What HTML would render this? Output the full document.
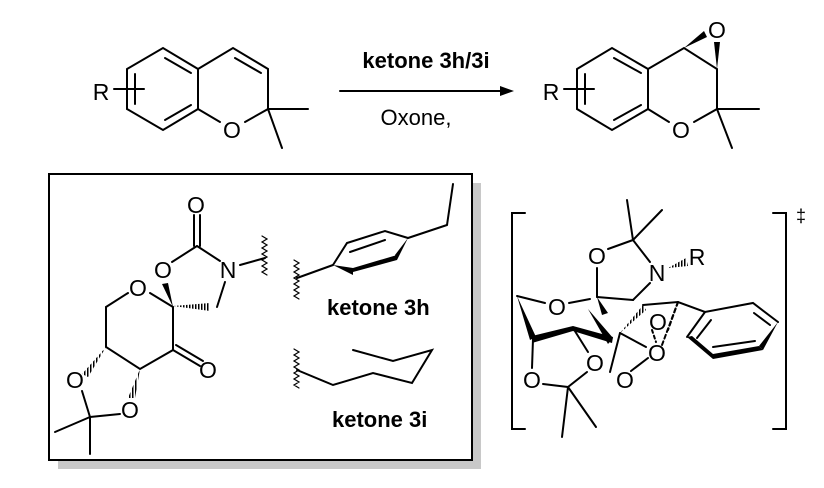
<!DOCTYPE html>
<html><head><meta charset="utf-8"><style>
html,body{margin:0;padding:0;background:#fff;}
svg{display:block;}
text{font-family:"Liberation Sans",Arial,sans-serif;fill:#000;}
.a{font-size:23px;text-anchor:middle;}
</style></head><body>
<svg width="824" height="488" viewBox="0 0 824 488" xmlns="http://www.w3.org/2000/svg">
<defs><pattern id="h" width="3" height="3" patternUnits="userSpaceOnUse"><rect width="1.5" height="3" fill="#000"/></pattern></defs>
<g stroke="#000" stroke-width="2" fill="none" stroke-linecap="round">
<polyline points="127,69 163,48 198,69 198,109 163,130 127,109 127,69"/>
<line x1="135" y1="74" x2="135" y2="104"/>
<line x1="165" y1="58" x2="191" y2="73"/>
<line x1="165" y1="120" x2="191" y2="105"/>
<polyline points="198,69 233,48 268,69 268,109 245,122"/>
<line x1="235" y1="58" x2="261" y2="73"/>
<line x1="220" y1="122" x2="198" y2="109"/>
<line x1="268" y1="109" x2="308" y2="109"/><line x1="268" y1="109" x2="282" y2="148"/>
<line x1="114" y1="89" x2="144" y2="89"/>
<line x1="340" y1="91" x2="500" y2="91"/>
<polyline points="577,69 612,48 648,69 648,109 612,130 577,109 577,69"/>
<line x1="585" y1="74" x2="585" y2="104"/>
<line x1="614" y1="58" x2="641" y2="73"/>
<line x1="614" y1="120" x2="641" y2="105"/>
<polyline points="648,69 684,48 717,69 717,109 694,122"/>
<line x1="669" y1="122" x2="648" y2="109"/>
<line x1="717" y1="109" x2="759" y2="109"/><line x1="717" y1="109" x2="732" y2="148"/>
<line x1="564" y1="89" x2="594" y2="89"/>
</g>
<polygon points="500,86 514,91 500,96" fill="#000"/>
<polygon points="684,48 704,31 707,37" fill="#000"/>
<polygon points="717,69 714,42 720,42" fill="#000"/>
<text class="a" x="101" y="100">R</text><text class="a" x="232" y="138">O</text>
<text class="a" x="551" y="100">R</text><text class="a" x="681" y="138">O</text><text class="a" x="717" y="38">O</text>
<text x="426" y="68" font-size="22" font-weight="bold" text-anchor="middle">ketone 3h/3i</text>
<text x="416" y="125" font-size="22" text-anchor="middle">Oxone,</text>

<rect x="58" y="183" width="423" height="286" fill="#c8c8c8"/>
<rect x="49" y="174" width="423" height="286" fill="#fff" stroke="#000" stroke-width="2"/>
<g stroke="#000" stroke-width="2" fill="none" stroke-linecap="round">
<line x1="194" y1="246" x2="194" y2="215"/><line x1="200" y1="246" x2="200" y2="215"/>
<line x1="197" y1="246" x2="172" y2="262"/><line x1="197" y1="246" x2="220" y2="261"/>
<line x1="225" y1="282" x2="217" y2="307"/>
<line x1="150" y1="293" x2="173" y2="307"/><line x1="128" y1="293" x2="106" y2="307"/>
<polyline points="106,307 106,347 140,369 173,350 173,307"/>
<line x1="173" y1="350" x2="200" y2="366"/><line x1="176" y1="345" x2="203" y2="361"/>
<line x1="82" y1="391" x2="90" y2="417"/><line x1="120" y1="414" x2="90" y2="417"/>
<line x1="90" y1="417" x2="55" y2="432"/><line x1="90" y1="417" x2="90" y2="454"/>
<line x1="240" y1="265" x2="265" y2="258"/>
<path d="M262,236 l5,3 l-5,3 l5,3 l-5,3 l5,3 l-5,3 l5,3 l-5,3 l5,3 l-5,3 l5,3 l-5,3 l5,3" stroke-width="1.2"/>
<path d="M294,260 l5,3 l-5,3 l5,3 l-5,3 l5,3 l-5,3 l5,3 l-5,3 l5,3 l-5,3 l5,3 l-5,3 l5,3" stroke-width="1.2"/>
<line x1="297" y1="278" x2="333" y2="265"/>
<polyline points="333,265 347,243 385,231 408,238"/>
<line x1="350" y1="252" x2="385" y2="240"/>
<line x1="408" y1="238" x2="447" y2="225"/><line x1="447" y1="225" x2="453" y2="184"/>
<path d="M294,349 l5,3 l-5,3 l5,3 l-5,3 l5,3 l-5,3 l5,3 l-5,3 l5,3 l-5,3 l5,3 l-5,3 l5,3" stroke-width="1.2"/>
<polyline points="297,370 333,385 373,373 412,383 432,350 393,361 353,350"/>
</g>
<polygon points="333,265 353,268 353,275" fill="#000"/>
<polygon points="353,272 353,268 397,255 397,260" fill="#000"/>
<polygon points="397,260 395,255 408,238" fill="#000"/>
<polygon points="173,307 162,284 168,283" fill="#000"/>
<polygon points="173,306 210,303 210,311" fill="url(#h)"/>
<polygon points="106,347 82,374 88,377" fill="url(#h)"/>
<polygon points="140,369 128,398 135,398" fill="url(#h)"/>
<text class="a" x="196" y="213">O</text><text class="a" x="163" y="278">O</text><text class="a" x="228" y="278">N</text>
<text class="a" x="138" y="296">O</text><text class="a" x="208" y="378">O</text><text class="a" x="75" y="388">O</text><text class="a" x="130" y="418">O</text>
<text x="327" y="315" font-size="22" font-weight="bold">ketone 3h</text>
<text x="332" y="427" font-size="22" font-weight="bold">ketone 3i</text>

<g stroke="#000" stroke-width="2" fill="none" stroke-linecap="round">
<polyline points="525,213 512,213 512,429 525,429"/>
<polyline points="773,213 786,213 786,429 773,429"/>
<line x1="633" y1="240" x2="627" y2="200"/><line x1="633" y1="240" x2="662" y2="210"/>
<line x1="608" y1="249" x2="633" y2="240"/><line x1="633" y1="240" x2="650" y2="262"/>
<line x1="650" y1="283" x2="633" y2="300"/><line x1="597" y1="268" x2="597" y2="297"/>
<line x1="597" y1="297" x2="633" y2="300"/>
<line x1="590" y1="299" x2="569" y2="303"/><line x1="545" y1="303" x2="517" y2="296"/>
<line x1="573" y1="328" x2="588" y2="352"/><line x1="533" y1="339" x2="532" y2="368"/>
<line x1="543" y1="384" x2="568" y2="387"/><line x1="587" y1="372" x2="568" y2="387"/>
<line x1="568" y1="387" x2="562" y2="437"/><line x1="568" y1="387" x2="596" y2="427"/>
<line x1="620" y1="333" x2="646" y2="347"/><line x1="620" y1="333" x2="610" y2="372"/>
<line x1="631" y1="371" x2="648" y2="358"/>
<polyline points="643,305 678,302 705,312 753,303 778,322"/>
<line x1="705" y1="312" x2="687" y2="337"/><line x1="711" y1="320" x2="697" y2="338"/>
<line x1="754" y1="313" x2="770" y2="325"/><line x1="713" y1="347" x2="755" y2="341"/>
<line x1="678" y1="302" x2="668" y2="330" stroke-dasharray="4,3"/>
<line x1="678" y1="302" x2="662" y2="345" stroke-dasharray="4,3"/>
<line x1="652" y1="330" x2="656" y2="342" stroke-dasharray="3,3"/>
</g>
<polygon points="517,296 536,337 530,340" fill="#000"/>
<polygon points="532,343 532,336 573,326 573,331" fill="#000"/>
<polygon points="573,326 613,337 612,343 573,331" fill="#000"/>
<polygon points="588,309 613,338 608,344" fill="#000"/>
<polygon points="597,297 608,313 602,315" fill="#000"/>
<polygon points="778,322 763,350 759,346" fill="#000"/>
<polygon points="763,350 713,359 713,354 759,346" fill="#000"/>
<polygon points="713,359 687,337 692,336 713,354" fill="#000"/>
<polygon points="620,333 643,305 646,310" fill="url(#h)"/>
<polygon points="668,268 686,258 688,266" fill="url(#h)"/>
<text class="a" x="597" y="264">O</text><text class="a" x="657" y="281">N</text><text class="a" x="697" y="265">R</text>
<text class="a" x="557" y="315">O</text><text class="a" x="658" y="330">O</text><text class="a" x="657" y="361">O</text>
<text class="a" x="595" y="371">O</text><text class="a" x="532" y="388">O</text><text class="a" x="625" y="388">O</text>
<text x="796" y="222" font-size="18">‡</text>
</svg>
</body></html>
